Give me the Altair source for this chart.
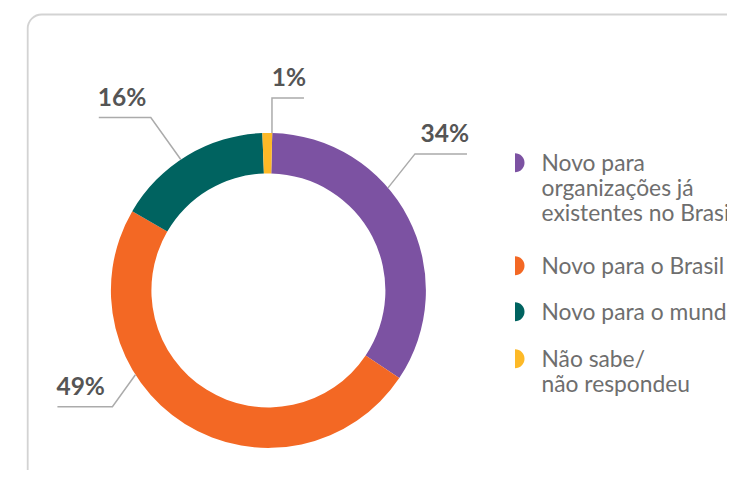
import math
import altair as alt
import pandas as pd

# ---------------- data ----------------
categories = [
    "Novo para organizações já existentes no Brasil",
    "Novo para o Brasil",
    "Novo para o mundo",
    "Não sabe/não respondeu",
]
values = [34, 49, 16, 1]
pct_labels = ["34%", "49%", "16%", "1%"]
legend_text = [
    "Novo para\norganizações já\nexistentes no Brasil",
    "Novo para o Brasil",
    "Novo para o mundo",
    "Não sabe/\nnão respondeu",
]
colors = ["#7C52A2", "#F36824", "#006360", "#FDB927"]

# ---------------- layout ----------------
W, H = 719, 462
CX, CY = 260.4, 282.4
R_OUT, R_IN = 157.5, 117
THETA_OFF = math.radians(1.4)

# leader lines: anchor angle on ring (deg, clockwise from top), elbow offset, horizontal length
lead_angle = [49.4, 237.6, 326.2, 1.3]
lead_elbow = [(27, -34), (-23, 32), (-30, -42), (0, -35)]
lead_len = [52, -55, -52, 32]
TEXT_GAP = 12

LEG_X_MARK = 507
LEG_X_TEXT = 533.5
LEG_Y = [162.7, 265.7, 311.7, 358.7]   # first-line baselines of legend entries
LINE_H = 25

# ---------------- build tables ----------------
df = pd.DataFrame({"cat": categories, "value": values, "order": list(range(len(values)))})

seg_rows, txt_rows = [], []
for i, lab in enumerate(pct_labels):
    a = math.radians(lead_angle[i])
    ax, ay = CX + R_OUT * math.sin(a), CY - R_OUT * math.cos(a)
    ex, ey = ax + lead_elbow[i][0], ay + lead_elbow[i][1]
    tx, ty = ex + lead_len[i], ey
    for k, (px, py) in enumerate([(ax, ay), (ex, ey), (tx, ty)]):
        seg_rows.append({"lab": lab, "k": k, "px": px, "py": py})
    txt_rows.append({"lab": lab, "px": tx + (-1 if lead_len[i] < 0 else 2), "py": ty - TEXT_GAP,
                     "side": "left" if lead_len[i] < 0 else "right"})
seg_df = pd.DataFrame(seg_rows)
txt_df = pd.DataFrame(txt_rows)

leg_df = pd.DataFrame({
    "cat": categories,
    "text": legend_text,
    "tx": [LEG_X_TEXT] * len(categories),
    "mx": [LEG_X_MARK] * len(categories),
    "ty": LEG_Y,
    "my": [v - 8 for v in LEG_Y],
})

xs = alt.Scale(domain=[0, W], nice=False, zero=False)
ys = alt.Scale(domain=[0, H], nice=False, zero=False, reverse=True)
cscale = alt.Scale(domain=categories, range=colors)

# ---------------- layers ----------------
card = alt.Chart(pd.DataFrame({"a": [0]})).mark_rect(
    filled=False, stroke="#d3d3d3", strokeWidth=1.8, cornerRadius=14
).encode(x=alt.value(19.7), x2=alt.value(W + 60), y=alt.value(6.5), y2=alt.value(H + 60))

arcs = alt.Chart(df).mark_arc(outerRadius=R_OUT, innerRadius=R_IN).encode(
    theta=alt.Theta("value:Q", stack=True,
                    scale=alt.Scale(range=[THETA_OFF, 2 * math.pi + THETA_OFF])),
    color=alt.Color("cat:N", scale=cscale, legend=None),
    order=alt.Order("order:Q"),
    x=alt.value(CX),
    y=alt.value(CY),
)

leaders = alt.Chart(seg_df).mark_line(color="#ababab", strokeWidth=1.5).encode(
    x=alt.X("px:Q", scale=xs, axis=None),
    y=alt.Y("py:Q", scale=ys, axis=None),
    detail="lab:N",
    order="k:Q",
)

pct_style = dict(font="Lato", fontSize=24.5, fontWeight="bold", color="#555555", baseline="alphabetic")
pct_left = alt.Chart(txt_df).transform_filter(alt.datum.side == "left").mark_text(
    align="left", **pct_style
).encode(x=alt.X("px:Q", scale=xs, axis=None), y=alt.Y("py:Q", scale=ys, axis=None), text="lab:N")
pct_right = alt.Chart(txt_df).transform_filter(alt.datum.side == "right").mark_text(
    align="right", **pct_style
).encode(x=alt.X("px:Q", scale=xs, axis=None), y=alt.Y("py:Q", scale=ys, axis=None), text="lab:N")

leg_marks = alt.Chart(leg_df).mark_point(
    shape="M0,-1A1,1 0 0 1 0,1Z", filled=True, size=361, opacity=1, strokeWidth=0
).encode(
    x=alt.X("mx:Q", scale=xs, axis=None),
    y=alt.Y("my:Q", scale=ys, axis=None),
    color=alt.Color("cat:N", scale=cscale, legend=None),
)

leg_text = alt.Chart(leg_df).mark_text(
    align="left", baseline="alphabetic", font="Lato", fontSize=22.8, color="#6e6e6e",
    lineBreak="\n", lineHeight=LINE_H
).encode(
    x=alt.X("tx:Q", scale=xs, axis=None),
    y=alt.Y("ty:Q", scale=ys, axis=None),
    text="text:N",
)

chart = alt.layer(card, arcs, leaders, pct_left, pct_right, leg_marks, leg_text).properties(
    width=W, height=H, padding=0, autosize=alt.AutoSizeParams(type="none"),
    background="white",
).configure_view(stroke=None)

chart.save("out.html", embed_options={"renderer": "svg", "actions": False})
